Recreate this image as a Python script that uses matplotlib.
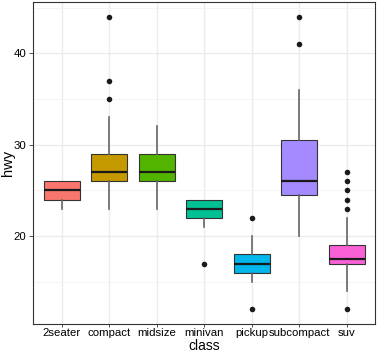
import matplotlib.pyplot as plt

plt.rcParams['font.family'] = ['Liberation Sans', 'DejaVu Sans']

# summary statistics of hwy per class
classes = ["2seater", "compact", "midsize", "minivan", "pickup", "subcompact", "suv"]
q1 = [24, 26, 26, 22, 16, 24.5, 17]
median = [25, 27, 27, 23, 17, 26, 17.5]
q3 = [26, 29, 29, 24, 18, 30.5, 19]
whislo = [23, 23, 23, 21, 15, 20, 14]
whishi = [26, 33, 32, 24, 20, 36, 22]
outliers = [[], [35, 37, 44], [], [17], [12, 22], [41, 44], [12, 23, 24, 25, 26, 27]]
colors = ["#F8766D", "#C49A00", "#53B400", "#00C094", "#00B6EB", "#A58AFF", "#FB61D7"]

stats = []
for i, c in enumerate(classes):
    stats.append(dict(label=c, q1=q1[i], med=median[i], q3=q3[i],
                      whislo=whislo[i], whishi=whishi[i], fliers=outliers[i]))

fig = plt.figure(figsize=(3.8, 3.54), dpi=100)
ax = fig.add_axes([0.087, 0.085, 0.9, 0.909])

pos = list(range(1, len(classes) + 1))
bp = ax.bxp(stats, positions=pos, widths=0.76, patch_artist=True, showcaps=False,
            boxprops=dict(edgecolor="#333333", linewidth=0.8),
            medianprops=dict(color="#1a1a1a", linewidth=1.6),
            whiskerprops=dict(color="#666666", linewidth=1.2),
            flierprops=dict(marker="o", markerfacecolor="#1a1a1a", markeredgecolor="none",
                            markersize=4), zorder=3)
for patch, col in zip(bp["boxes"], colors):
    patch.set_facecolor(col)

ax.set_xlim(0.4, 7.6)
ax.set_ylim(10.4, 45.6)
ax.set_yticks([20, 30, 40])
ax.set_yticks([15, 25, 35, 45], minor=True)
ax.set_xticks(pos)
ax.set_xticklabels(classes)
ax.grid(True, which="major", color="#EBEBEB", linewidth=1.0, zorder=0)
ax.grid(True, which="minor", axis="y", color="#F3F3F3", linewidth=0.6, zorder=0)
ax.set_axisbelow(True)
ax.tick_params(axis="both", which="major", labelsize=8.2, colors="#333333", labelcolor="black",
               length=3, width=0.6, pad=2)
ax.tick_params(axis="x", which="major", length=2, pad=1)
ax.tick_params(axis="y", which="minor", length=0)
for s in ax.spines.values():
    s.set_color("#333333")
    s.set_linewidth(0.8)

ax.set_xlabel("class", fontsize=10, va="center")
ax.set_ylabel("hwy", fontsize=10.5, va="center")
ax.xaxis.set_label_coords(0.5, -0.068)
ax.yaxis.set_label_coords(-0.072, 0.5)

fig.savefig("out.png", dpi=100)
